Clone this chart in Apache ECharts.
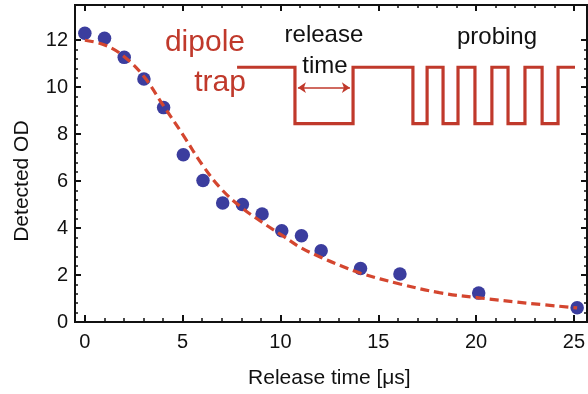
<!DOCTYPE html>
<html>
<head>
<meta charset="utf-8">
<script src="https://cdn.jsdelivr.net/npm/echarts@6/dist/echarts.min.js"></script>
<style>
html,body{margin:0;padding:0;background:#fff;}
#chart{width:588px;height:394px;}
</style>
</head>
<body>
<div id="chart"></div>
<script>
// Measured data (release time in µs, detected OD)
var pointX = [0, 1, 2, 3, 4, 5, 6, 7, 8, 9, 10, 11, 12, 14, 16, 20, 25];
var pointY = [12.3, 12.08, 11.27, 10.35, 9.13, 7.12, 6.03, 5.07, 5.0, 4.6, 3.89, 3.67, 3.03, 2.28, 2.04, 1.23, 0.61];

// Fitted curve
var fitX = [0, 1, 2, 3, 4, 5, 6, 7, 8, 9, 10, 11, 12, 13, 14, 16, 18, 20, 22.5, 25];
var fitY = [12.0, 11.8, 11.3, 10.45, 9.2, 7.95, 6.65, 5.6, 4.85, 4.25, 3.7, 3.15, 2.75, 2.4, 2.08, 1.62, 1.25, 1.03, 0.8, 0.6];

// Inset timing diagram (in data units)
var waveX = [7.73, 10.67, 10.67, 13.62, 13.62, 16.66, 16.66, 17.38, 17.38, 18.19, 18.19, 18.95, 18.95, 19.81, 19.81, 20.67, 20.67, 21.49, 21.49, 22.35, 22.35, 23.22, 23.22, 24.03, 24.03, 24.89];
var waveY = [10.85, 10.85, 8.45, 8.45, 10.85, 10.85, 8.45, 8.45, 10.85, 10.85, 8.45, 8.45, 10.85, 10.85, 8.45, 8.45, 10.85, 10.85, 8.45, 8.45, 10.85, 10.85, 8.45, 8.45, 10.85, 10.85];
var arrowX = [10.82, 13.46];
var arrowY = [9.98, 9.98];

// Inset text
var noteText = ['dipole', 'trap', 'release', 'time', 'probing'];
var noteX = [6.1, 6.87, 12.14, 12.19, 20.93];
var noteY = [11.88, 10.18, 12.22, 10.9, 12.14];
var noteRed = [true, true, false, false, false];

// Axis
var xTitle = 'Release time [\u03bcs]';
var yTitle = 'Detected OD';

var RED = '#c0392b';
var FIT = '#d4462f';
var DOT = '#3b3d9e';
var INK = '#111111';
var FONT = '"Liberation Sans", Arial, Helvetica, sans-serif';

function zip(a, b) { return a.map(function (v, i) { return [v, b[i]]; }); }

var tickStyle = { inside: true, length: 6, lineStyle: { color: INK, width: 2 } };
var minorStyle = { show: true, splitNumber: 5, length: 3, lineStyle: { color: INK, width: 1.5 } };

var chart = echarts.init(document.getElementById('chart'), null, { renderer: 'canvas' });
chart.setOption({
  animation: false,
  backgroundColor: '#fff',
  textStyle: { fontFamily: FONT },
  grid: [
    { left: 75, right: 1, top: 5, bottom: 72, show: true, borderColor: INK, borderWidth: 2, backgroundColor: 'transparent' },
    { left: 84.85, right: 10.85, top: 5, bottom: 72 },
    { left: 75, right: 1, top: 40.22, bottom: 72 }
  ],
  xAxis: [
    { gridIndex: 0, type: 'value', min: -0.5, max: 25.5, show: false },
    { gridIndex: 1, type: 'value', min: 0, max: 25, interval: 5, position: 'bottom',
      axisLine: { show: false, onZero: false }, axisTick: tickStyle, minorTick: minorStyle,
      splitLine: { show: false },
      axisLabel: { fontSize: 20, margin: 11, color: INK, fontFamily: FONT },
      name: xTitle, nameLocation: 'middle', nameGap: 47,
      nameTextStyle: { fontSize: 21, color: INK, fontFamily: FONT } },
    { gridIndex: 1, type: 'value', min: 0, max: 25, interval: 5, position: 'top',
      axisLine: { show: false, onZero: false }, axisTick: tickStyle, minorTick: minorStyle,
      splitLine: { show: false }, axisLabel: { show: false } },
    { gridIndex: 2, type: 'value', min: 1, max: 2, show: false }
  ],
  yAxis: [
    { gridIndex: 0, type: 'value', min: 0, max: 13.5, show: false },
    { gridIndex: 1, type: 'value', min: 1, max: 2, show: false },
    { gridIndex: 2, type: 'value', min: 0, max: 12, interval: 2, position: 'left',
      axisLine: { show: false, onZero: false }, axisTick: tickStyle, minorTick: minorStyle,
      splitLine: { show: false },
      axisLabel: { fontSize: 20, margin: 7, color: INK, fontFamily: FONT },
      name: yTitle, nameLocation: 'middle', nameGap: 42,
      nameTextStyle: { fontSize: 21, color: INK, fontFamily: FONT } },
    { gridIndex: 2, type: 'value', min: 0, max: 12, interval: 2, position: 'right',
      axisLine: { show: false, onZero: false }, axisTick: tickStyle, minorTick: minorStyle,
      splitLine: { show: false }, axisLabel: { show: false } }
  ],
  series: [
    {
      name: 'data', type: 'scatter', xAxisIndex: 0, yAxisIndex: 0, z: 2,
      symbol: 'circle', symbolSize: 13.5,
      itemStyle: { color: DOT, opacity: 1 },
      data: zip(pointX, pointY)
    },
    {
      name: 'fit', type: 'line', xAxisIndex: 0, yAxisIndex: 0, z: 3,
      smooth: 0.4, showSymbol: false, symbol: 'none',
      lineStyle: { color: FIT, width: 3.2, type: [9, 5] },
      data: zip(fitX, fitY)
    },
    {
      name: 'wave', type: 'line', xAxisIndex: 0, yAxisIndex: 0, z: 4,
      showSymbol: false, symbol: 'none',
      lineStyle: { color: RED, width: 3.2, join: 'miter' },
      data: zip(waveX, waveY),
      markLine: {
        silent: true, symbol: ['arrow', 'arrow'], symbolSize: [8, 8],
        lineStyle: { color: RED, width: 1.5, type: 'solid' },
        label: { show: false },
        data: [[{ coord: [arrowX[0], arrowY[0]] }, { coord: [arrowX[1], arrowY[1]] }]]
      }
    },
    {
      name: 'notes', type: 'scatter', xAxisIndex: 0, yAxisIndex: 0, z: 5,
      symbolSize: 0, silent: true,
      itemStyle: { color: 'transparent', opacity: 1 },
      data: noteText.map(function (t, i) {
        return {
          value: [noteX[i], noteY[i]], name: t,
          label: {
            show: true, position: 'inside', formatter: t,
            fontSize: noteRed[i] ? 30 : 24,
            color: noteRed[i] ? RED : INK,
            textBorderWidth: 0, textBorderColor: 'transparent',
            fontFamily: FONT
          }
        };
      })
    }
  ]
});
</script>
</body>
</html>
